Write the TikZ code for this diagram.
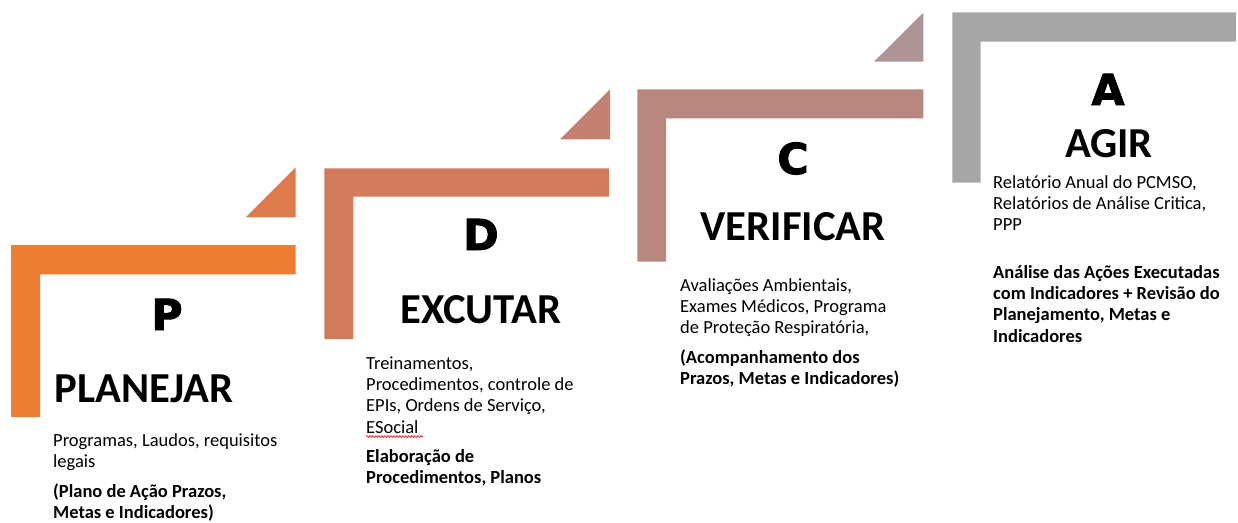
\documentclass[tikz,border=0pt]{standalone}
\usepackage{fontspec}
\setmainfont{Carlito}
\newfontfamily\heavyfont{DejaVu Sans Bold}[FakeBold=2.2]
\usetikzlibrary{decorations.pathmorphing}
\definecolor{cP}{HTML}{ED7D31}
\definecolor{tP}{HTML}{DF7A4A}
\definecolor{cD}{HTML}{D27A5C}
\definecolor{tD}{HTML}{C47F70}
\definecolor{cC}{HTML}{B8877F}
\definecolor{tC}{HTML}{AE9595}
\definecolor{cA}{HTML}{A6A6A6}
\newcommand{\paralines}[1]{\vtop{\baselineskip=21.4pt\lineskip=0pt\lineskiplimit=-100pt #1}}
\begin{document}
\begin{tikzpicture}[x=1pt,y=-1pt,
  letter/.style={anchor=base,inner sep=0pt,font=\heavyfont\fontsize{42.7}{48}\selectfont},
  title/.style={anchor=base,inner sep=0pt,font=\bfseries\fontsize{42.7}{48}\selectfont},
  body/.style={anchor=base west,inner sep=0pt,font=\fontsize{18.5}{21.4}\selectfont},
  bodyb/.style={anchor=base west,inner sep=0pt,font=\bfseries\fontsize{18.5}{21.4}\selectfont},
  spell/.style={red,line width=0.6pt,decorate,decoration={snake,segment length=3pt,amplitude=0.9pt}}
  ]
\useasboundingbox (0,0) rectangle (1238,522);
% step P
\fill[cP] (11,245) -- (295.7,245) -- (295.7,274.3) -- (40,274.3) -- (40,417) -- (11,417) -- cycle;
\fill[tP] (245.7,217.3) -- (295.7,167.3) -- (295.7,217.3) -- cycle;
% step D
\fill[cD] (324.3,168.3) -- (609,168.3) -- (609,196.7) -- (353.3,196.7) -- (353.3,339) -- (324.3,339) -- cycle;
\fill[tD] (560,139.3) -- (610,89.3) -- (610,139.3) -- cycle;
% step C
\fill[cC] (637.3,89.3) -- (923.3,89.3) -- (923.3,118.3) -- (666,118.3) -- (666,261.7) -- (637.3,261.7) -- cycle;
\fill[tC] (874,61.7) -- (923.3,12.7) -- (923.3,61.7) -- cycle;
% step A
\fill[cA] (952.3,12.3) -- (1236,12.3) -- (1236,41.7) -- (980.7,41.7) -- (980.7,182.7) -- (952.3,182.7) -- cycle;

% letters
\node[letter] (lP) at (167,330) {P};
\node[letter] (lD) at (481,250) {D};
\node[letter] (lC) at (793,174) {C};
\node[letter] (lA) at (1108,105) {A};
% titles
\node[title] (tiP) at (144,402) {PLANEJAR};
\node[title] (tiD) at (481,323) {EXCUTAR};
\node[title] (tiC) at (793,240) {VERIFICAR};
\node[title] (tiA) at (1109,157) {AGIR};

% bodies
\node[body] (bP1) at (53,446) {\paralines{\hbox{Programas, Laudos, requisitos}\hbox{legais}}};
\node[bodyb] (bP2) at (53,497) {\paralines{\hbox{(Plano de Ação Prazos,}\hbox{Metas e Indicadores)}}};

\node[body] (bD1) at (366,369) {\paralines{\hbox{Treinamentos,}\hbox{Procedimentos, controle de}\hbox{EPIs, Ordens de Serviço,}\hbox{ESocial}}};
\node[bodyb] (bD2) at (366,462) {\paralines{\hbox{Elaboração de}\hbox{Procedimentos, Planos}}};
\coordinate (sp1) at (366,436.5);
\coordinate (sp2) at (423,436.5);
\draw[spell] (sp1) -- (sp2);

\node[body] (bC1) at (680,291) {\paralines{\hbox{Avaliações Ambientais,}\hbox{Exames Médicos, Programa}\hbox{de Proteção Respiratória,}}};
\node[bodyb] (bC2) at (680,363.5) {\paralines{\hbox{(Acompanhamento dos}\hbox{Prazos, Metas e Indicadores)}}};

\node[body] (bA1) at (993,188) {\paralines{\hbox{Relatório Anual do PCMSO,}\hbox{Relatórios de Análise Critica,}\hbox{PPP}}};
\node[bodyb] (bA2) at (993,278) {\paralines{\hbox{Análise das Ações Executadas}\hbox{com Indicadores + Revisão do}\hbox{Planejamento, Metas e}\hbox{Indicadores}}};
\end{tikzpicture}
\end{document}
